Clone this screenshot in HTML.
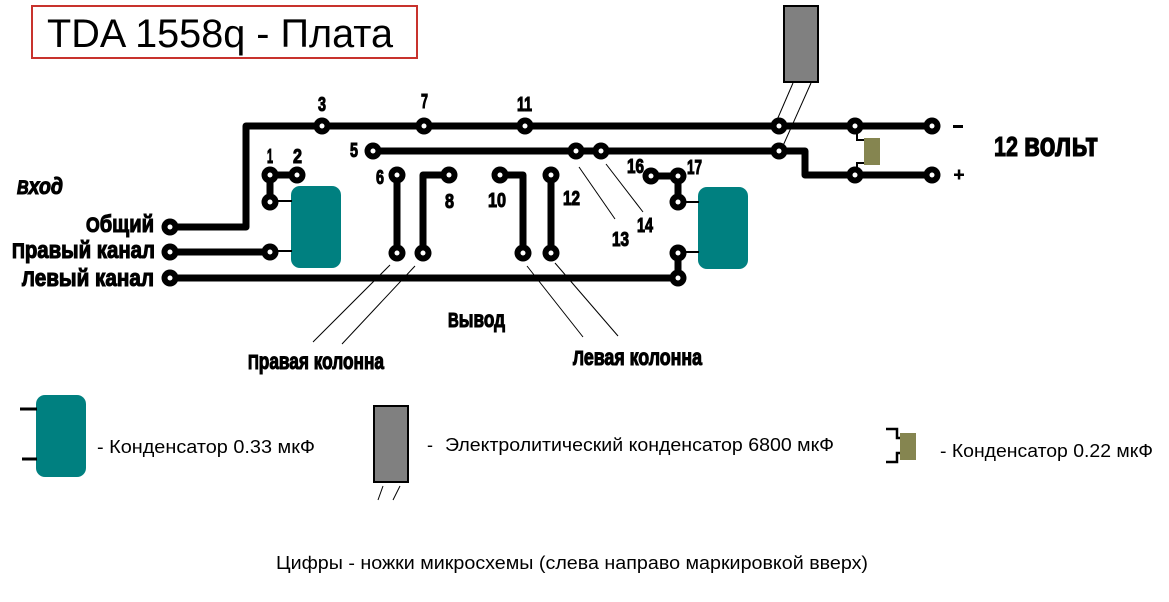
<!DOCTYPE html>
<html><head><meta charset="utf-8"><style>
html,body{margin:0;padding:0;background:#fff;}
svg{display:block;}
.b{font-family:"Liberation Sans Narrow","Liberation Sans",sans-serif;font-weight:bold;fill:#000;stroke:#000;stroke-width:1.1;}
.n{font-family:"Liberation Sans",sans-serif;fill:#000;}
</style></head><body>
<svg width="1169" height="602" viewBox="0 0 1169 602" xmlns="http://www.w3.org/2000/svg">
<rect x="0" y="0" width="1169" height="602" fill="#fff"/>
<!-- title -->
<rect x="32" y="6" width="385" height="52" fill="none" stroke="#c8322d" stroke-width="2"/>
<text class="n" x="47" y="47" font-size="40" textLength="346" lengthAdjust="spacingAndGlyphs">TDA 1558q - Плата</text>

<!-- thin leader lines -->
<g stroke="#000" stroke-width="1" fill="none">
<line x1="793" y1="83" x2="777" y2="120"/>
<line x1="811" y1="83" x2="782" y2="148"/>
<line x1="579" y1="167" x2="615" y2="219"/>
<line x1="606" y1="164" x2="643" y2="212"/>
<line x1="390" y1="265" x2="313" y2="342"/>
<line x1="415" y1="266" x2="342" y2="344"/>
<line x1="527" y1="266" x2="583" y2="337"/>
<line x1="555" y1="263" x2="618" y2="336"/>
</g>

<!-- caps -->
<rect x="291" y="186" width="50" height="82" rx="9" fill="#008080"/>
<rect x="698" y="187" width="50" height="82" rx="9" fill="#008080"/>
<rect x="784" y="6" width="34" height="76" fill="#808080" stroke="#000" stroke-width="2"/>
<rect x="864" y="138" width="16" height="27" fill="#858550"/>

<!-- traces -->
<g stroke="#000" stroke-width="7" fill="none" stroke-linejoin="round">
<path d="M170,227 H246 V126 H932"/>
<path d="M373,151 H805 V175 H932"/>
<path d="M170,252 H270"/>
<path d="M170,278 H678"/>
<path d="M270,202 V175 H297"/>
<path d="M397,175 V253"/>
<path d="M449,175 H423 V253"/>
<path d="M500,175 H523 V253"/>
<path d="M551,175 V253"/>
<path d="M651,176 H678 V202"/>
<path d="M678,253 V278"/>
</g>
<g stroke="#000" stroke-width="2" fill="none">
<path d="M270,201 H292"/>
<path d="M270,251 H292"/>
<path d="M678,202 H699"/>
<path d="M678,252 H699"/>
<path d="M857,126 V140 H864"/>
<path d="M864,163 H857 V175"/>
</g>

<!-- pads -->
<g fill="#000">
<circle cx="170" cy="227" r="8.5"/><circle cx="170" cy="252" r="8.5"/><circle cx="170" cy="278" r="8.5"/>
<circle cx="270" cy="252" r="8.5"/><circle cx="270" cy="175" r="8.5"/><circle cx="297" cy="175" r="8.5"/><circle cx="270" cy="202" r="8.5"/>
<circle cx="322" cy="126" r="8.5"/><circle cx="424" cy="126" r="8.5"/><circle cx="525" cy="126" r="8.5"/><circle cx="779" cy="126" r="8.5"/><circle cx="855" cy="126" r="8.5"/><circle cx="932" cy="126" r="8.5"/>
<circle cx="373" cy="151" r="8.5"/><circle cx="576" cy="151" r="8.5"/><circle cx="601" cy="151" r="8.5"/><circle cx="779" cy="151" r="8.5"/>
<circle cx="855" cy="175" r="8.5"/><circle cx="932" cy="175" r="8.5"/>
<circle cx="397" cy="175" r="8.5"/><circle cx="397" cy="253" r="8.5"/>
<circle cx="449" cy="175" r="8.5"/><circle cx="423" cy="253" r="8.5"/>
<circle cx="500" cy="175" r="8.5"/><circle cx="523" cy="253" r="8.5"/>
<circle cx="551" cy="175" r="8.5"/><circle cx="551" cy="253" r="8.5"/>
<circle cx="651" cy="176" r="8.5"/><circle cx="678" cy="176" r="8.5"/><circle cx="678" cy="202" r="8.5"/>
<circle cx="678" cy="253" r="8.5"/><circle cx="678" cy="278" r="8.5"/>
</g>
<g fill="#fff">
<circle cx="170" cy="227" r="2.5"/><circle cx="170" cy="252" r="2.5"/><circle cx="170" cy="278" r="2.5"/>
<circle cx="270" cy="252" r="2.5"/><circle cx="270" cy="175" r="2.5"/><circle cx="297" cy="175" r="2.5"/><circle cx="270" cy="202" r="2.5"/>
<circle cx="322" cy="126" r="2.5"/><circle cx="424" cy="126" r="2.5"/><circle cx="525" cy="126" r="2.5"/><circle cx="779" cy="126" r="2.5"/><circle cx="855" cy="126" r="2.5"/><circle cx="932" cy="126" r="2.5"/>
<circle cx="373" cy="151" r="2.5"/><circle cx="576" cy="151" r="2.5"/><circle cx="601" cy="151" r="2.5"/><circle cx="779" cy="151" r="2.5"/>
<circle cx="855" cy="175" r="2.5"/><circle cx="932" cy="175" r="2.5"/>
<circle cx="397" cy="175" r="2.5"/><circle cx="397" cy="253" r="2.5"/>
<circle cx="449" cy="175" r="2.5"/><circle cx="423" cy="253" r="2.5"/>
<circle cx="500" cy="175" r="2.5"/><circle cx="523" cy="253" r="2.5"/>
<circle cx="551" cy="175" r="2.5"/><circle cx="551" cy="253" r="2.5"/>
<circle cx="651" cy="176" r="2.5"/><circle cx="678" cy="176" r="2.5"/><circle cx="678" cy="202" r="2.5"/>
<circle cx="678" cy="253" r="2.5"/><circle cx="678" cy="278" r="2.5"/>
</g>

<!-- minus / plus -->
<rect x="953" y="125" width="10" height="3" fill="#000"/>
<rect x="954" y="173.5" width="10" height="2.5" fill="#000"/>
<rect x="957.8" y="169.5" width="2.5" height="10" fill="#000"/>

<!-- pin numbers -->
<g class="b" font-size="20">
<text x="318" y="111" textLength="8" lengthAdjust="spacingAndGlyphs">3</text>
<text x="421" y="108" textLength="7" lengthAdjust="spacingAndGlyphs">7</text>
<text x="517" y="111" textLength="15" lengthAdjust="spacingAndGlyphs">11</text>
<text x="267" y="163" textLength="6" lengthAdjust="spacingAndGlyphs">1</text>
<text x="293" y="163" textLength="9" lengthAdjust="spacingAndGlyphs">2</text>
<text x="350" y="157" textLength="8" lengthAdjust="spacingAndGlyphs">5</text>
<text x="376" y="184" textLength="8" lengthAdjust="spacingAndGlyphs">6</text>
<text x="445" y="208" textLength="9" lengthAdjust="spacingAndGlyphs">8</text>
<text x="488" y="207" textLength="18" lengthAdjust="spacingAndGlyphs">10</text>
<text x="563" y="205" textLength="17" lengthAdjust="spacingAndGlyphs">12</text>
<text x="627" y="173" textLength="17" lengthAdjust="spacingAndGlyphs">16</text>
<text x="687" y="174" textLength="15" lengthAdjust="spacingAndGlyphs">17</text>
<text x="637" y="232" textLength="16" lengthAdjust="spacingAndGlyphs">14</text>
<text x="612" y="246" textLength="17" lengthAdjust="spacingAndGlyphs">13</text>
</g>

<!-- labels -->
<text class="b" x="17" y="194" font-size="19" font-style="italic" textLength="46" lengthAdjust="spacingAndGlyphs">В<tspan font-size="23">ход</tspan></text>
<g class="b" font-size="21">
<text x="86" y="232" textLength="68" lengthAdjust="spacingAndGlyphs">О<tspan font-size="24">бщий</tspan></text>
<text x="12" y="258" textLength="143" lengthAdjust="spacingAndGlyphs">П<tspan font-size="24">равый канал</tspan></text>
<text x="22" y="286" textLength="132" lengthAdjust="spacingAndGlyphs">Л<tspan font-size="24">евый канал</tspan></text>
</g>
<g class="b" font-size="20">
<text x="448" y="327" textLength="57" lengthAdjust="spacingAndGlyphs">В<tspan font-size="23">ывод</tspan></text>
<text x="248" y="369" textLength="136" lengthAdjust="spacingAndGlyphs">П<tspan font-size="23">равая колонна</tspan></text>
<text x="573" y="365" textLength="129" lengthAdjust="spacingAndGlyphs">Л<tspan font-size="23">евая колонна</tspan></text>
</g>
<text class="b" x="994" y="156" font-size="28" textLength="104" lengthAdjust="spacingAndGlyphs">12  <tspan font-size="34">вольт</tspan></text>

<!-- legend -->
<rect x="36" y="395" width="50" height="82" rx="9" fill="#008080"/>
<line x1="20" y1="409" x2="37" y2="409" stroke="#000" stroke-width="3"/>
<line x1="22" y1="459" x2="37" y2="459" stroke="#000" stroke-width="3"/>
<text class="n" x="97" y="453" font-size="18" textLength="218" lengthAdjust="spacingAndGlyphs">- Конденсатор 0.33 мкФ</text>

<rect x="374" y="406" width="34" height="76" fill="#808080" stroke="#000" stroke-width="2"/>
<line x1="383" y1="486" x2="378" y2="500" stroke="#000" stroke-width="1"/>
<line x1="400" y1="486" x2="393" y2="500" stroke="#000" stroke-width="1"/>
<text class="n" x="427" y="451" font-size="18">-</text>
<text class="n" x="445" y="451" font-size="18" textLength="389" lengthAdjust="spacingAndGlyphs">Электролитический конденсатор 6800 мкФ</text>

<rect x="900" y="433" width="16" height="27" fill="#858550"/>
<path d="M886,429 H897 V438 H900 M900,453 H897 V462 H886" stroke="#000" stroke-width="2.5" fill="none"/>
<text class="n" x="940" y="457" font-size="18" textLength="213" lengthAdjust="spacingAndGlyphs">- Конденсатор 0.22 мкФ</text>

<text class="n" x="276" y="569" font-size="18" textLength="592" lengthAdjust="spacingAndGlyphs">Цифры - ножки микросхемы (слева направо маркировкой вверх)</text>
</svg>
</body></html>
